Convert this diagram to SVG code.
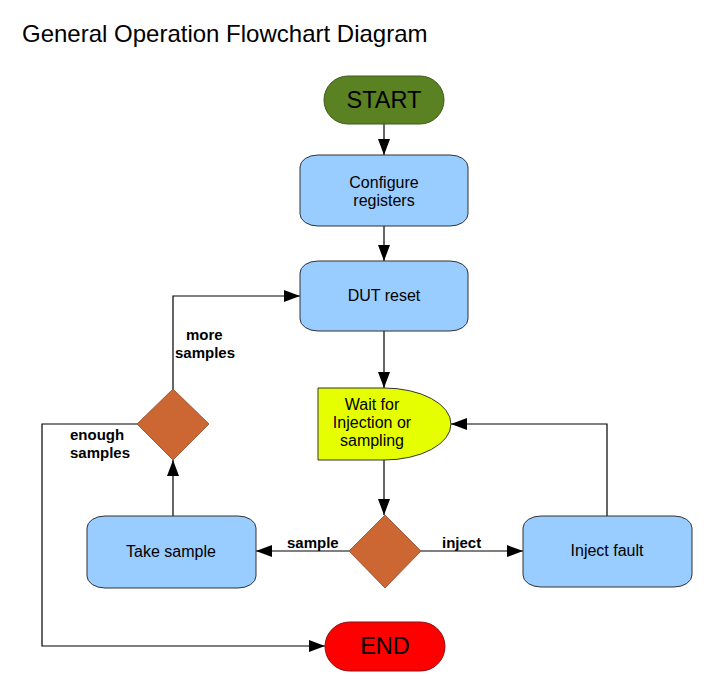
<svg xmlns="http://www.w3.org/2000/svg" width="720" height="698" viewBox="0 0 720 698">
<style>
text{font-family:"Liberation Sans",Arial,sans-serif;fill:#000}
.box{fill:#99ccff;stroke:#333;stroke-width:1}
.dia{fill:#cc6633;stroke:#8a4a2a;stroke-width:0.8}
.t{font-size:16px;text-anchor:middle}
.lbl{font-size:15px;font-weight:bold}
.c{fill:none;stroke:#000;stroke-width:1.2;marker-end:url(#ah)}
</style>
<defs>
<marker id="ah" viewBox="0 0 16 12" refX="16" refY="6" markerWidth="16" markerHeight="12" markerUnits="userSpaceOnUse" orient="auto">
<path d="M0,0 L16,6 L0,12 Z" fill="#000"/>
</marker>
</defs>
<rect width="720" height="698" fill="#fff"/>
<text x="22" y="42" font-size="24">General Operation Flowchart Diagram</text>
<g id="connectors">
<path class="c" d="M384,124 V155"/>
<path class="c" d="M384,226 V261"/>
<path class="c" d="M384,331 V388"/>
<path class="c" d="M384,460 V515"/>
<path class="c" d="M349,551 H256"/>
<path class="c" d="M421,551 H523"/>
<path class="c" d="M607,516 V424 H451"/>
<path class="c" d="M173,516 V460"/>
<path class="c" d="M173,389 V296 H300"/>
<path class="c" d="M137,424 H42 V646 H325"/>
<text class="lbl" x="287" y="548">sample</text>
<text class="lbl" x="442" y="548">inject</text>
<text class="lbl" x="186" y="340">more</text>
<text class="lbl" x="175" y="358">samples</text>
<text class="lbl" x="70" y="440">enough</text>
<text class="lbl" x="70" y="458">samples</text>
</g>
<g id="start">
<rect x="324" y="76" width="120" height="48" rx="24" ry="24" fill="#5a8222" stroke="#3c5a18"/>
<text x="384" y="108" font-size="23.5" text-anchor="middle">START</text>
</g>
<g id="configure">
<rect class="box" x="300" y="155" width="168" height="71" rx="18" ry="12"/>
<text class="t" x="384" y="188">Configure</text>
<text class="t" x="384" y="206">registers</text>
</g>
<g id="dutreset">
<rect class="box" x="300" y="261" width="168" height="70" rx="18" ry="12"/>
<text class="t" x="384" y="301">DUT reset</text>
</g>
<g id="wait">
<path d="M318,388 H384 A67,36 0 0 1 384,460 H318 Z" fill="#e6ff00" stroke="#333" stroke-width="1"/>
<text class="t" x="372" y="410">Wait for</text>
<text class="t" x="372" y="428">Injection or</text>
<text class="t" x="372" y="446">sampling</text>
</g>
<g id="decision-main">
<path class="dia" d="M385,515 L421,551 L385,588 L349,551 Z"/>
</g>
<g id="decision-samples">
<path class="dia" d="M173,389 L209,424 L173,460 L137,424 Z"/>
</g>
<g id="takesample">
<rect class="box" x="87" y="516" width="169" height="72" rx="18" ry="12"/>
<text class="t" x="171" y="557">Take sample</text>
</g>
<g id="injectfault">
<rect class="box" x="523" y="516" width="169" height="71" rx="18" ry="12"/>
<text class="t" x="607" y="556">Inject fault</text>
</g>
<g id="end">
<rect x="325" y="622" width="120" height="49" rx="24.5" ry="24.5" fill="#ff0000" stroke="#8a1010"/>
<text x="385" y="654" font-size="23.5" text-anchor="middle">END</text>
</g>
</svg>
